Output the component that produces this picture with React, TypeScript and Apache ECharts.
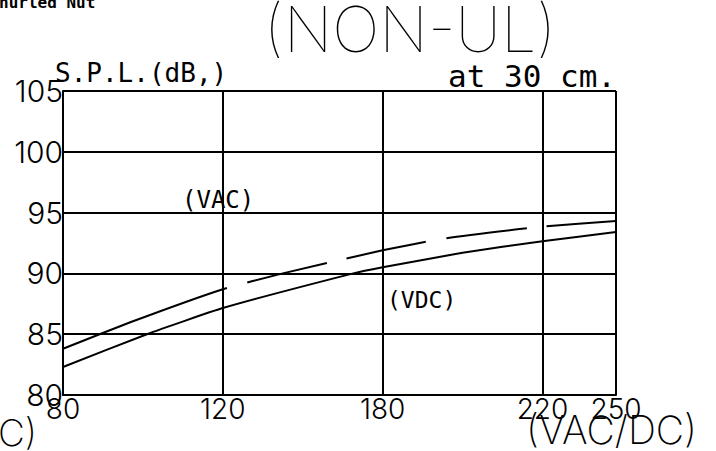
import React, { useEffect, useRef } from "react";
import * as echarts from "echarts";

// Printed x-axis ticks (V) and their relative slot on the paper (the printed scale is not linear)
const xTicks = [80, 120, 180, 220, 250];
const xTickSlots = [0, 1, 2, 3, 3.46];
const yMin = 80;
const yMax = 105;
const yStep = 5;

// (VAC) dashed curve
const vacVolts = [80, 97, 120, 142.5, 180, 196, 220, 250];
const vacSpl = [83.8, 86.0, 88.7, 90.0, 91.9, 92.9, 93.85, 94.3];
// (VDC) solid curve
const vdcVolts = [80, 101, 120, 169, 180, 200, 220, 250];
const vdcSpl = [82.3, 85.0, 87.15, 90.0, 90.5, 91.7, 92.65, 93.4];

function toSlot(v: number): number {
  for (let i = 0; i < xTicks.length - 1; i++) {
    if (v <= xTicks[i + 1]) {
      const t = (v - xTicks[i]) / (xTicks[i + 1] - xTicks[i]);
      return xTickSlots[i] + t * (xTickSlots[i + 1] - xTickSlots[i]);
    }
  }
  return xTickSlots[xTickSlots.length - 1];
}

const MONO = "'DejaVu Sans Mono', 'Liberation Mono', monospace";
const THIN = "Inter, Roboto, 'DejaVu Sans', sans-serif";

export default function App() {
  const ref = useRef<HTMLDivElement>(null);
  useEffect(() => {
    if (!ref.current) return;
    const chart = echarts.init(ref.current, null, { renderer: "svg" });
    const lineCol = "#000";
    chart.setOption({
      animation: false,
      backgroundColor: "#fff",
      grid: { left: 63, top: 91, width: 553, height: 304, containLabel: false },
      xAxis: {
        type: "value",
        min: xTickSlots[0],
        max: xTickSlots[xTickSlots.length - 1],
        interval: 1,
        axisLine: { show: true, onZero: false, lineStyle: { color: lineCol, width: 2 } },
        axisTick: { show: false },
        splitLine: { show: true, lineStyle: { color: lineCol, width: 2 } },
        axisLabel: {
          show: true,
          margin: 0,
          color: "#000",
          fontFamily: THIN,
          fontWeight: 300,
          fontSize: 28,
          showMinLabel: true,
          showMaxLabel: true,
          formatter: (val: number) => {
            const i = xTickSlots.findIndex((s) => Math.abs(s - val) < 1e-6);
            return i >= 0 ? String(xTicks[i]) : "";
          },
        },
      },
      yAxis: {
        type: "value",
        min: yMin,
        max: yMax,
        interval: yStep,
        axisLine: { show: true, onZero: false, lineStyle: { color: lineCol, width: 2 } },
        axisTick: { show: false },
        splitLine: { show: true, lineStyle: { color: lineCol, width: 2 } },
        axisLabel: {
          margin: 0,
          color: "#000",
          fontFamily: THIN,
          fontWeight: 300,
          fontSize: 30,
        },
      },
      series: [
        {
          name: "(VAC)",
          type: "line",
          data: vacVolts.map((v, i) => [toSlot(v), vacSpl[i]]),
          showSymbol: false,
          smooth: 0.15,
          lineStyle: { color: "#000", width: 2, type: [175, 21, 82, 20, 81, 21, 81, 20, 100] },
          z: 5,
        },
        {
          name: "(VDC)",
          type: "line",
          data: vdcVolts.map((v, i) => [toSlot(v), vdcSpl[i]]),
          showSymbol: false,
          smooth: 0.15,
          lineStyle: { color: "#000", width: 2, type: "solid" },
          z: 5,
        },
      ],
      graphic: [
        {
          type: "text",
          left: -1,
          top: -6,
          style: { text: "nurled Nut", fontFamily: MONO, fontWeight: "bold", fontSize: 16, fill: "#000" },
        },
        {
          type: "text",
          x: 410,
          y: 29,
          style: { text: "(NON-UL)", fontFamily: THIN, fontWeight: 100, fontSize: 63, fill: "#000", align: "center", verticalAlign: "middle" },
        },
        {
          type: "text",
          x: 55,
          y: 73,
          style: { text: "S.P.L.(dB,)", fontFamily: MONO, fontSize: 26, fill: "#000", align: "left", verticalAlign: "middle" },
        },
        {
          type: "text",
          x: 448,
          y: 76,
          style: { text: "at 30 cm.", fontFamily: MONO, fontSize: 31, fill: "#000", align: "left", verticalAlign: "middle" },
        },
        {
          type: "text",
          x: 182,
          y: 200,
          style: { text: "(VAC)", fontFamily: MONO, fontSize: 24, fill: "#000", align: "left", verticalAlign: "middle" },
        },
        {
          type: "text",
          x: 387,
          y: 300,
          style: { text: "(VDC)", fontFamily: MONO, fontSize: 23, fill: "#000", align: "left", verticalAlign: "middle" },
        },
        {
          type: "text",
          x: 526,
          y: 429,
          style: { text: "(VAC/DC)", fontFamily: THIN, fontWeight: 200, fontSize: 39, fill: "#000", align: "left", verticalAlign: "middle" },
        },
        {
          type: "text",
          x: -2,
          y: 432,
          style: { text: "C)", fontFamily: THIN, fontWeight: 200, fontSize: 37, fill: "#000", align: "left", verticalAlign: "middle" },
        },
      ],
    });
    return () => chart.dispose();
  }, []);
  return (
    <div
      ref={ref}
      style={{ position: "fixed", left: 0, top: 0, width: 716, height: 451, background: "#fff" }}
    />
  );
}
